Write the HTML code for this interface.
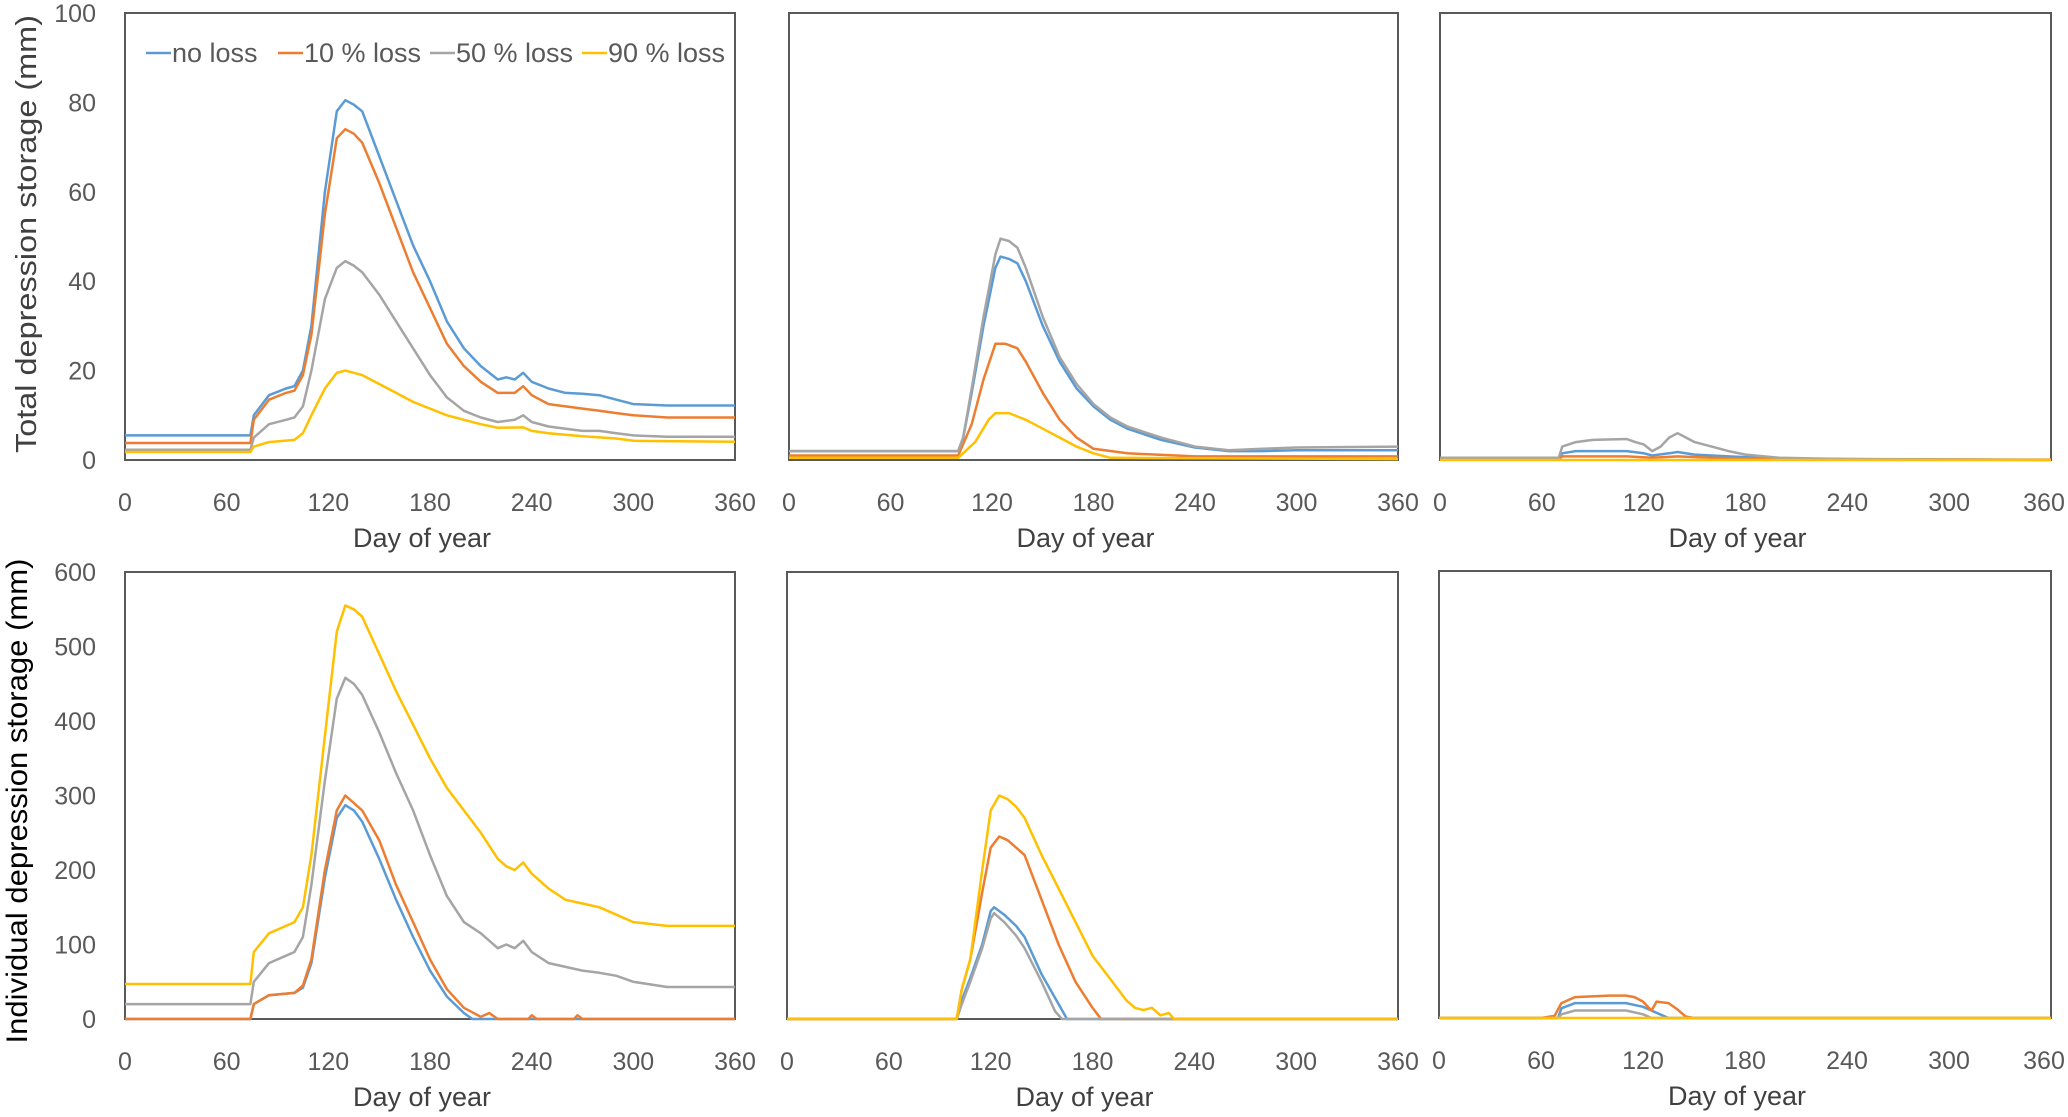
<!DOCTYPE html>
<html><head><meta charset="utf-8">
<style>
html,body{margin:0;padding:0;background:#fff;}
svg{display:block;font-family:"Liberation Sans",sans-serif;}
</style></head>
<body>
<svg id="chart" width="2068" height="1117" viewBox="0 0 2068 1117" xmlns="http://www.w3.org/2000/svg"></svg>
<script>
// ---- data (day, value) keypoints ----
const xTicks = [0, 60, 120, 180, 240, 300, 360];
const yTicksTop = [0, 20, 40, 60, 80, 100];
const yTicksBottom = [0, 100, 200, 300, 400, 500, 600];
const seriesNames = ["no loss", "10 % loss", "50 % loss", "90 % loss"];

const p1Blue = [[0,5.5],[74,5.5],[76,10],[85,14.5],[95,16],[100,16.5],[105,20],[110,30],[118,60],[125,78],[130,80.5],[135,79.5],[140,78],[150,68],[160,58],[170,48],[180,40],[190,31],[200,25],[210,21],[220,18],[225,18.5],[230,18],[235,19.5],[240,17.5],[250,16],[260,15],[270,14.8],[280,14.5],[290,13.5],[300,12.5],[320,12.2],[360,12.2]];
const p1Orange = [[0,3.8],[74,3.8],[76,9],[85,13.5],[95,15],[100,15.5],[105,19],[110,28],[118,55],[125,72],[130,74],[135,73],[140,71],[150,62],[160,52],[170,42],[180,34],[190,26],[200,21],[210,17.5],[220,15],[230,15],[235,16.5],[240,14.5],[250,12.5],[260,12],[270,11.5],[280,11],[290,10.5],[300,10],[320,9.5],[360,9.5]];
const p1Gray = [[0,2.3],[74,2.3],[76,5],[85,8],[95,9],[100,9.5],[105,12],[110,20],[118,36],[125,43],[130,44.5],[135,43.5],[140,42],[150,37],[160,31],[170,25],[180,19],[190,14],[200,11],[210,9.5],[220,8.5],[230,9],[235,10],[240,8.5],[250,7.5],[260,7],[270,6.5],[280,6.5],[290,6],[300,5.5],[320,5.2],[360,5.2]];
const p1Yellow = [[0,1.8],[74,1.8],[76,3],[85,4],[100,4.5],[105,6],[110,10],[118,16],[125,19.5],[130,20],[140,19],[150,17],[160,15],[170,13],[180,11.5],[190,10],[200,9],[210,8],[220,7.2],[235,7.3],[240,6.5],[250,6],[270,5.3],[290,4.8],[300,4.3],[360,4.1]];

const p2Blue = [[0,2],[100,2],[103,5],[108,15],[115,30],[122,43],[125,45.5],[130,45],[135,44],[140,40],[150,30],[160,22],[170,16],[180,12],[190,9],[200,7],[220,4.5],[240,2.8],[260,2],[280,2],[300,2.2],[360,2.2]];
const p2Gray = [[0,2],[100,2],[103,5],[108,16],[115,32],[122,46],[125,49.5],[130,49],[135,47.5],[140,43],[150,32],[160,23],[170,17],[180,12.5],[190,9.5],[200,7.5],[220,5],[240,3],[260,2.2],[280,2.5],[300,2.8],[360,3]];
const p2Orange = [[0,1],[100,1],[108,8],[115,18],[122,26],[128,26],[135,25],[140,22],[150,15],[160,9],[170,5],[180,2.5],[200,1.5],[240,0.8],[360,0.8]];
const p2Yellow = [[0,0.5],[100,0.5],[110,4],[118,9],[122,10.5],[130,10.5],[140,9],[150,7],[160,5],[170,3],[180,1.5],[190,0.5],[360,0.2]];

const p3Blue = [[0,0.3],[70,0.3],[72,1.5],[80,2],[110,2],[120,1.5],[125,1],[135,1.5],[140,1.8],[150,1.2],[170,0.8],[200,0.3],[360,0]];
const p3Orange = [[0,0.2],[70,0.2],[72,0.8],[110,0.8],[125,0.5],[140,0.8],[160,0.5],[200,0.2],[360,0.1]];
const p3Gray = [[0,0.5],[70,0.5],[72,3],[80,4],[90,4.5],[110,4.7],[115,4],[120,3.5],[125,2],[130,3],[135,5],[140,6],[145,5],[150,4],[160,3],[170,2],[180,1.2],[200,0.5],[240,0.2],[360,0]];
const p3Yellow = [[0,0],[360,0]];

const p4Blue = [[0,0],[74,0],[76,20],[85,32],[100,35],[105,42],[110,75],[118,190],[125,270],[130,287],[135,280],[140,265],[150,215],[160,160],[170,110],[180,65],[190,30],[200,8],[205,0],[360,0]];
const p4Orange = [[0,0],[74,0],[76,20],[85,32],[100,35],[105,45],[110,80],[118,200],[125,280],[130,300],[135,290],[140,280],[150,240],[160,180],[170,130],[180,80],[190,40],[200,15],[210,3],[215,8],[220,0],[238,0],[240,5],[243,0],[265,0],[267,5],[270,0],[360,0]];
const p4Gray = [[0,20],[74,20],[76,50],[85,75],[95,85],[100,90],[105,110],[110,180],[118,320],[125,430],[130,458],[135,450],[140,435],[150,385],[160,330],[170,280],[180,220],[190,165],[200,130],[210,115],[220,95],[225,100],[230,95],[235,105],[240,90],[250,75],[260,70],[270,65],[280,62],[290,58],[300,50],[320,43],[360,43]];
const p4Yellow = [[0,47],[74,47],[76,90],[85,115],[95,125],[100,130],[105,150],[110,220],[118,380],[125,520],[130,555],[135,550],[140,540],[150,490],[160,440],[170,395],[180,350],[190,310],[200,280],[210,250],[220,215],[225,205],[230,200],[235,210],[240,195],[250,175],[260,160],[270,155],[280,150],[290,140],[300,130],[320,125],[360,125]];

const p5Blue = [[0,0],[100,0],[103,25],[108,55],[115,100],[120,145],[122,150],[128,140],[135,125],[140,110],[150,60],[160,20],[165,0],[360,0]];
const p5Orange = [[0,0],[100,0],[103,40],[108,80],[115,170],[120,230],[125,245],[130,240],[135,230],[140,220],[150,160],[160,100],[170,50],[180,15],[185,0],[360,0]];
const p5Gray = [[0,0],[100,0],[103,20],[108,50],[115,95],[120,135],[122,142],[128,130],[135,112],[140,95],[150,50],[158,10],[162,0],[360,0]];
const p5Yellow = [[0,0],[100,0],[103,40],[108,80],[115,200],[120,280],[125,300],[130,295],[135,285],[140,270],[150,220],[160,175],[170,130],[180,85],[190,55],[200,25],[205,15],[210,12],[215,15],[220,5],[225,8],[228,0],[360,0]];

const p6Blue = [[0,0],[70,0],[72,13],[80,20],[110,20],[120,15],[130,5],[135,0],[360,0]];
const p6Orange = [[0,0],[60,0],[68,3],[72,20],[80,28],[100,30],[110,30],[115,28],[120,22],[125,10],[128,22],[135,20],[140,12],[145,2],[150,0],[360,0]];
const p6Gray = [[0,0],[70,0],[72,5],[80,10],[110,10],[120,5],[125,0],[360,0]];
const p6Yellow = [[0,0],[360,0]];

const colors = ["#5B9BD5", "#ED7D31", "#A5A5A5", "#FFC000"];
const NS = "http://www.w3.org/2000/svg";
const svg = document.getElementById("chart");

function mk(tag, attrs, parent) {
  const e = document.createElementNS(NS, tag);
  for (const k in attrs) e.setAttribute(k, attrs[k]);
  (parent || svg).appendChild(e);
  return e;
}

const panels = [
  {id:"p1", x0:125, x1:735, y0:13, y1:460, ymax:100, series:[p1Blue,p1Orange,p1Gray,p1Yellow], yTicks:yTicksTop, showY:true},
  {id:"p2", x0:789, x1:1398, y0:13, y1:460, ymax:100, series:[p2Blue,p2Orange,p2Gray,p2Yellow], showY:false},
  {id:"p3", x0:1440, x1:2051, y0:13, y1:460, ymax:100, series:[p3Blue,p3Orange,p3Gray,p3Yellow], showY:false},
  {id:"p4", x0:125, x1:735, y0:572, y1:1019, ymax:600, series:[p4Blue,p4Orange,p4Gray,p4Yellow], yTicks:yTicksBottom, showY:true},
  {id:"p5", x0:787, x1:1398, y0:572, y1:1019, ymax:600, series:[p5Blue,p5Orange,p5Gray,p5Yellow], showY:false},
  {id:"p6", x0:1439, x1:2051, y0:571, y1:1018, ymax:600, series:[p6Blue,p6Orange,p6Gray,p6Yellow], showY:false}
];

panels.forEach(function(p, pi){
  const g = mk("g", {});
  
  
  const xs = function(d){ return p.x0 + d/360*(p.x1-p.x0); };
  const ys = function(v){ return p.y1 - v/p.ymax*(p.y1-p.y0); };
  const frame = mk("rect", {x:p.x0, y:p.y0, width:p.x1-p.x0, height:p.y1-p.y0, fill:"none", stroke:"#595959", "stroke-width":2}, g);
  
  
  p.series.forEach(function(s, si){
    const d = s.map(function(pt, i){ return (i?"L":"M") + xs(pt[0]).toFixed(1) + " " + ys(pt[1]).toFixed(1); }).join(" ");
    const path = mk("path", {d:d, fill:"none", stroke:colors[si], "stroke-width":2.5, "stroke-linejoin":"round"}, g);
    
    
  });
  xTicks.forEach(function(t){
    let xx = xs(t);
    if (t === 360 && xx + 22 > 2066) xx = 2066 - 22;
    const tx = mk("text", {x:xx, y:p.y1+51, "font-size":25, fill:"#595959", "text-anchor":"middle"}, g);
    tx.textContent = t;
    
    
  });
  const xt = mk("text", {x:(p.x0+p.x1)/2 - 8, y:p.y1+87, "font-size":27, fill:"#404040", "text-anchor":"middle"}, g);
  xt.textContent = "Day of year";
  
  
  if (p.showY) {
    p.yTicks.forEach(function(t){
      const ty = mk("text", {x:96, y:ys(t)+9, "font-size":25, fill:"#595959", "text-anchor":"end"}, g);
      ty.textContent = t;
      
      
    });
  }
});

const yt1 = mk("text", {x:0, y:0, "font-size":29, fill:"#404040", "text-anchor":"middle", textLength:438, lengthAdjust:"spacingAndGlyphs", transform:"translate(36,234) rotate(-90)"});
yt1.textContent = "Total depression storage (mm)";


const yt2 = mk("text", {x:0, y:0, "font-size":30, fill:"#000", "text-anchor":"middle", textLength:485, lengthAdjust:"spacingAndGlyphs", transform:"translate(27,801) rotate(-90)"});
yt2.textContent = "Individual depression storage (mm)";



const legend = mk("g", {});


const legX = [146, 278, 430, 582];
seriesNames.forEach(function(n, i){
  const eg = mk("g", {}, legend);
  
  
  mk("line", {x1:legX[i], x2:legX[i]+25, y1:53, y2:53, stroke:colors[i], "stroke-width":2.5}, eg);
  const t = mk("text", {x:legX[i]+26, y:62, "font-size":27, fill:"#595959"}, eg);
  t.textContent = n;
});
</script>
</body></html>
